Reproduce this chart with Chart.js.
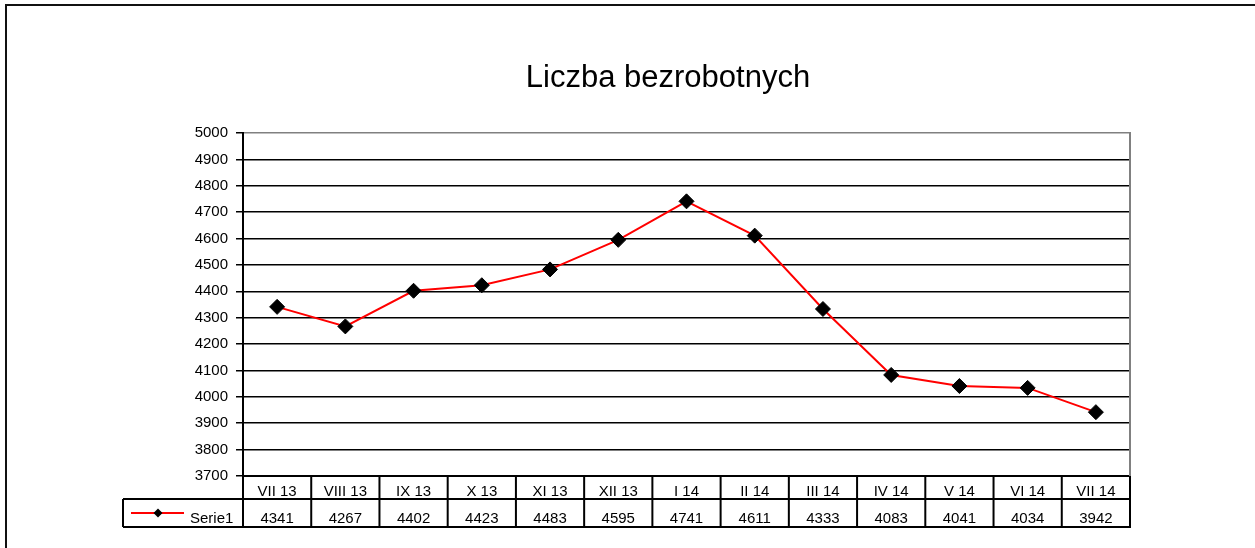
<!DOCTYPE html>
<html>
<head>
<meta charset="utf-8">
<script src="https://cdn.jsdelivr.net/npm/chart.js@4.4.1/dist/chart.umd.min.js"></script>
<style>
  html, body { margin: 0; padding: 0; background: #fff; }
  canvas { display: block; }
</style>
</head>
<body>
<canvas id="chart" width="1255" height="548"></canvas>
<script>
// months (category row of the data table)
const months = ['VII 13', 'VIII 13', 'IX 13', 'X 13', 'XI 13', 'XII 13', 'I 14', 'II 14', 'III 14', 'IV 14', 'V 14', 'VI 14', 'VII 14'];
// number of unemployed
const serie1 = [4341, 4267, 4402, 4423, 4483, 4595, 4741, 4611, 4333, 4083, 4041, 4034, 3942];
const seriesName = 'Serie1';
const chartTitle = 'Liczba bezrobotnych';

const FONT = "'Liberation Sans', Arial, sans-serif";

// frame, title and the data table under the x axis
const tablePlugin = {
    id: 'excelTable',
    afterDraw(chart) {
        const ctx = chart.ctx;
        const area = chart.chartArea;
        const x = chart.scales.x;
        const n = months.length;
        const colW = (area.right - area.left) / n;
        const row1 = area.bottom + 23;
        const row2 = area.bottom + 51;
        const legendLeft = 123;

        ctx.save();

        // outer frame
        ctx.strokeStyle = '#111';
        ctx.lineWidth = 2;
        ctx.beginPath();
        ctx.moveTo(6, 560);
        ctx.lineTo(6, 5);
        ctx.lineTo(1270, 5);
        ctx.stroke();

        // title
        ctx.fillStyle = '#000';
        ctx.font = '31px ' + FONT;
        ctx.textAlign = 'center';
        ctx.textBaseline = 'alphabetic';
        ctx.fillText(chartTitle, 668, 87);

        // right border of the plot area
        ctx.strokeStyle = '#808080';
        ctx.beginPath();
        ctx.moveTo(area.right, area.top - 1);
        ctx.lineTo(area.right, area.bottom);
        ctx.stroke();

        // table grid
        ctx.strokeStyle = '#000';
        ctx.beginPath();
        for (let i = 0; i <= n; i++) {
            const xx = area.left + i * colW;
            ctx.moveTo(xx, area.bottom);
            ctx.lineTo(xx, row2);
        }
        ctx.moveTo(legendLeft, row1);
        ctx.lineTo(area.right + 1, row1);
        ctx.moveTo(legendLeft, row2);
        ctx.lineTo(area.right + 1, row2);
        ctx.moveTo(legendLeft, row1);
        ctx.lineTo(legendLeft, row2);
        ctx.stroke();

        // categories and values
        ctx.font = '15px ' + FONT;
        ctx.fillStyle = '#000';
        ctx.textAlign = 'center';
        ctx.textBaseline = 'alphabetic';
        months.forEach((m, i) => {
            const cx = x.getPixelForValue(i);
            ctx.fillText(m, cx, area.bottom + 20);
            ctx.fillText(String(serie1[i]), cx, row1 + 24);
        });

        // legend key
        const ly = row1 + 14;
        ctx.strokeStyle = '#ff0000';
        ctx.lineWidth = 2;
        ctx.beginPath();
        ctx.moveTo(131, ly);
        ctx.lineTo(184, ly);
        ctx.stroke();
        ctx.fillStyle = '#000';
        ctx.beginPath();
        ctx.moveTo(158, ly - 4.5);
        ctx.lineTo(162.5, ly);
        ctx.lineTo(158, ly + 4.5);
        ctx.lineTo(153.5, ly);
        ctx.closePath();
        ctx.fill();
        ctx.textAlign = 'left';
        ctx.fillText(seriesName, 190, row1 + 24);

        ctx.restore();
    }
};

new Chart(document.getElementById('chart'), {
    type: 'line',
    data: {
        labels: months,
        datasets: [{
            label: seriesName,
            data: serie1,
            borderColor: '#ff0000',
            borderWidth: 2,
            tension: 0,
            pointStyle: 'rectRot',
            pointRadius: 7.5,
            pointHoverRadius: 7.5,
            pointBackgroundColor: '#000',
            pointBorderColor: '#000',
            pointBorderWidth: 1
        }]
    },
    options: {
        responsive: false,
        animation: false,
        layout: {
            padding: { left: 180, right: 125, top: 133, bottom: 72 }
        },
        plugins: {
            legend: { display: false },
            title: { display: false },
            tooltip: { enabled: false }
        },
        scales: {
            x: {
                type: 'category',
                offset: true,
                grid: { display: false },
                ticks: { display: false },
                border: { display: true, color: '#000', width: 2 },
                afterFit(s) { s.height = 0; }
            },
            y: {
                min: 3700,
                max: 5000,
                ticks: {
                    stepSize: 100,
                    color: '#000',
                    padding: 8,
                    font: { family: FONT, size: 15 },
                    callback: (v) => String(v)
                },
                grid: {
                    color(c) { return c.tick && c.tick.value === 5000 ? '#808080' : '#000'; },
                    tickColor: '#000',
                    tickLength: 7,
                    lineWidth: 1.5
                },
                border: { display: true, color: '#000', width: 2 },
                afterFit(s) { s.width = 63; }
            }
        }
    },
    plugins: [tablePlugin]
});
</script>
</body>
</html>
